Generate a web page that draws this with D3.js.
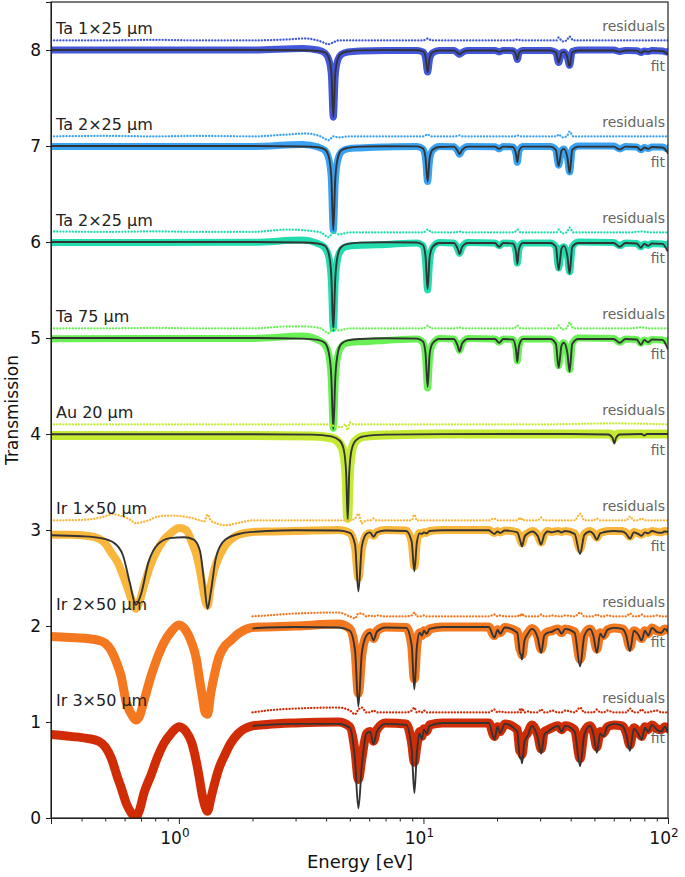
<!DOCTYPE html>
<html>
<head>
<meta charset="utf-8">
<script src="https://d3js.org/d3.v7.min.js"></script>
<style>
  body { margin: 0; background: #fff; }
  text { font-family: "DejaVu Sans", sans-serif; }
</style>
</head>
<body>
<script>
// ---- sample rows (top to bottom) ----
var labels = ['Ta 1×25 µm', 'Ta 2×25 µm', 'Ta 2×25 µm', 'Ta 75 µm', 'Au 20 µm', 'Ir 1×50 µm', 'Ir 2×50 µm', 'Ir 3×50 µm'];
var offsets = [7, 6, 5, 4, 3, 2, 1, 0];
var colors = ['#4257da', '#3aa2f2', '#22dcae', '#68f055', '#c4ea34', '#f8b73c', '#f47820', '#d02c06'];

// ---- Ta: energies [eV] of fit / data points ----
var taEnergy = [0.3, 2.0, 3.2, 3.7, 3.95, 4.1, 4.2, 4.28, 4.36, 4.47, 4.62, 4.9, 5.5, 7.0,
  9.4, 9.95, 10.2, 10.4, 10.6, 10.9, 11.6,
  13.3, 13.8, 14.05, 14.4, 15.2,
  19.6, 20.4, 21.2,
  23.2, 23.9, 24.2, 24.6, 25.5,
  33.0, 34.8, 35.7, 36.7, 37.5, 38.8, 39.6, 40.6, 43.0,
  60.0, 63.5, 67.0, 74.5, 77.5, 80.0, 83.0, 86.0, 95.0, 98.5, 100];

var ta1Fit = [1.0, 1.0, 0.997, 0.99, 0.975, 0.92, 0.78, 0.3, 0.76, 0.91, 0.965, 0.985, 0.996, 0.999,
  0.997, 0.985, 0.93, 0.77, 0.92, 0.975, 0.995,
  0.995, 0.97, 0.955, 0.975, 0.995,
  0.995, 0.98, 0.995,
  0.993, 0.95, 0.9, 0.97, 0.995,
  0.995, 0.975, 0.87, 0.97, 0.98, 0.92, 0.83, 0.975, 0.995,
  0.995, 0.98, 0.995, 0.993, 0.97, 0.99, 0.98, 0.993, 0.99, 0.965, 0.95];
var ta2aFit = [1.0, 1.0, 0.995, 0.987, 0.965, 0.89, 0.68, 0.12, 0.66, 0.88, 0.955, 0.98, 0.994, 0.998,
  0.996, 0.975, 0.88, 0.63, 0.87, 0.96, 0.99,
  0.993, 0.95, 0.915, 0.96, 0.993,
  0.993, 0.97, 0.993,
  0.99, 0.92, 0.83, 0.95, 0.993,
  0.993, 0.96, 0.79, 0.95, 0.97, 0.88, 0.72, 0.96, 0.993,
  0.993, 0.965, 0.993, 0.99, 0.955, 0.985, 0.97, 0.99, 0.985, 0.95, 0.92];
var ta2bFit = [1.0, 1.0, 0.995, 0.985, 0.96, 0.88, 0.65, 0.08, 0.62, 0.87, 0.95, 0.98, 0.993, 0.998,
  0.995, 0.97, 0.85, 0.51, 0.84, 0.95, 0.99,
  0.99, 0.93, 0.875, 0.95, 0.99,
  0.99, 0.95, 0.99,
  0.985, 0.9, 0.77, 0.93, 0.99,
  0.99, 0.95, 0.71, 0.93, 0.96, 0.85, 0.67, 0.95, 0.99,
  0.99, 0.95, 0.99, 0.985, 0.94, 0.98, 0.96, 0.985, 0.98, 0.93, 0.9];
var ta75Fit = [1.0, 1.0, 0.993, 0.98, 0.95, 0.85, 0.6, 0.05, 0.58, 0.85, 0.94, 0.975, 0.99, 0.997,
  0.993, 0.965, 0.84, 0.49, 0.83, 0.945, 0.99,
  0.99, 0.92, 0.86, 0.945, 0.99,
  0.99, 0.95, 0.99,
  0.985, 0.88, 0.75, 0.92, 0.99,
  0.99, 0.94, 0.69, 0.92, 0.95, 0.84, 0.65, 0.94, 0.99,
  0.99, 0.95, 0.99, 0.985, 0.93, 0.98, 0.955, 0.985, 0.98, 0.92, 0.88];

var ta1Data = [1.0, 1.0, 1.015, 1.0, 0.97, 0.9, 0.75, 0.3, 0.74, 0.9, 0.955, 0.98, 0.99, 0.995,
  0.995, 0.98, 0.92, 0.77, 0.91, 0.97, 0.995,
  0.995, 0.97, 0.955, 0.975, 0.995,
  0.995, 0.98, 0.995,
  0.993, 0.95, 0.9, 0.97, 0.995,
  0.995, 0.975, 0.87, 0.97, 0.98, 0.92, 0.84, 0.985, 1.0,
  1.0, 0.985, 0.995, 0.993, 0.975, 0.99, 0.985, 0.995, 0.99, 0.98, 0.985];
var ta2aData = [0.995, 0.995, 1.015, 0.99, 0.955, 0.87, 0.66, 0.12, 0.64, 0.86, 0.94, 0.97, 0.98, 0.99,
  0.995, 0.97, 0.87, 0.63, 0.86, 0.955, 0.995,
  0.993, 0.95, 0.915, 0.96, 0.995,
  0.993, 0.97, 0.995,
  0.99, 0.92, 0.83, 0.95, 0.995,
  0.995, 0.96, 0.8, 0.95, 0.97, 0.88, 0.73, 0.965, 1.0,
  1.0, 0.97, 0.995, 0.99, 0.96, 0.985, 0.975, 0.99, 0.99, 0.975, 0.98];
var ta2bData = [0.995, 0.998, 1.02, 0.985, 0.94, 0.85, 0.6, 0.1, 0.6, 0.84, 0.92, 0.955, 0.965, 0.975,
  0.99, 0.96, 0.8, 0.5, 0.8, 0.94, 0.995,
  0.99, 0.93, 0.88, 0.95, 0.995,
  0.99, 0.96, 0.99,
  0.985, 0.9, 0.78, 0.93, 0.99,
  0.99, 0.95, 0.73, 0.93, 0.95, 0.86, 0.69, 0.95, 1.0,
  0.995, 0.96, 0.99, 0.985, 0.95, 0.98, 0.965, 0.985, 0.98, 0.97, 0.98];
var ta75Data = [0.993, 0.995, 1.02, 0.98, 0.93, 0.83, 0.56, 0.06, 0.56, 0.82, 0.91, 0.95, 0.96, 0.975,
  0.99, 0.955, 0.8, 0.48, 0.8, 0.935, 0.995,
  0.99, 0.92, 0.87, 0.945, 0.995,
  0.99, 0.955, 0.99,
  0.985, 0.89, 0.76, 0.92, 0.99,
  0.99, 0.94, 0.71, 0.92, 0.95, 0.85, 0.67, 0.945, 1.0,
  0.995, 0.955, 0.99, 0.985, 0.945, 0.98, 0.96, 0.985, 0.98, 0.965, 0.975];

// Ta residuals (shifted +0.1 above each row)
var taResE = [0.3, 0.5, 0.8, 1.2, 2.0, 2.8, 3.3, 3.8, 4.1, 4.28, 4.5, 5.0, 6.5, 9.0, 10.0, 10.4, 10.8, 13.5, 14.0, 14.5,
  20, 23.5, 24.2, 25, 30, 35, 35.7, 37, 38.5, 39.6, 41, 50, 63.5, 70, 77.5, 85, 100];
var ta1Res = [0.0, 0.0, 0.005, 0.0, 0.0, 0.01, 0.02, -0.01, -0.04, -0.02, 0.0, 0.0, 0.0, 0.0, 0.0, 0.02, 0.0, 0.0, 0.0, 0.0,
  0.0, 0.0, 0.01, 0.0, 0.0, 0.0, 0.03, -0.01, 0.0, 0.04, 0.0, 0.0, 0.0, 0.0, 0.0, 0.0, 0.0];
var ta2aRes = [0.0, 0.005, 0.0, 0.005, 0.0, 0.02, 0.03, 0.0, -0.04, 0.0, -0.01, 0.0, 0.0, 0.0, 0.0, 0.02, 0.0, 0.0, 0.01, 0.0,
  0.0, 0.0, 0.01, 0.0, 0.0, 0.0, 0.02, -0.01, 0.0, 0.05, 0.0, 0.0, 0.0, 0.0, 0.0, 0.0, 0.0];
var ta2bRes = [0.01, 0.005, 0.01, 0.005, 0.005, 0.03, 0.02, 0.0, -0.05, 0.0, -0.02, 0.0, 0.0, 0.0, 0.0, 0.03, 0.0, 0.0, 0.01, 0.0,
  0.0, 0.0, 0.03, 0.0, 0.0, 0.0, 0.03, -0.01, 0.0, 0.05, 0.0, 0.0, 0.0, 0.0, 0.01, 0.0, 0.0];
var ta75Res = [0.0, 0.0, 0.005, 0.0, 0.0, 0.02, 0.02, 0.0, -0.05, 0.0, -0.02, 0.0, 0.0, 0.0, 0.0, 0.03, 0.0, 0.0, 0.01, 0.0,
  0.0, 0.0, 0.03, 0.0, 0.0, 0.0, 0.03, -0.01, 0.0, 0.06, 0.0, 0.0, 0.0, 0.0, 0.01, 0.0, 0.0];

// ---- Au ----
var auEnergy = [0.3, 2.0, 3.5, 4.2, 4.55, 4.72, 4.83, 4.9, 4.97, 5.08, 5.28, 5.7, 7.0, 12, 40, 57, 59.3, 60.3, 61.3, 63.5, 78, 80, 82, 100];
var auFit = [0.998, 0.998, 0.993, 0.975, 0.93, 0.84, 0.6, 0.1, 0.58, 0.83, 0.93, 0.975, 0.993, 0.999, 1.0, 0.995, 0.96, 0.9, 0.96, 0.995, 1.0, 0.985, 1.0, 1.0];
var auData = [0.985, 0.985, 0.98, 0.96, 0.9, 0.8, 0.55, 0.12, 0.55, 0.82, 0.93, 0.975, 0.99, 1.0, 1.0, 1.0, 0.99, 0.96, 0.99, 1.0, 1.0, 1.0, 1.0, 1.0];
var auResE = [0.3, 1.0, 2.0, 3.0, 4.0, 4.6, 4.8, 4.9, 5.0, 5.2, 6.0, 10, 30, 60, 100];
var auRes = [0.0, 0.0, 0.0, 0.0, 0.0, -0.03, 0.0, -0.06, 0.02, 0.0, 0.0, 0.0, 0.0, 0.01, 0.0];

// ---- Ir: fit grid (Ir 2x50 / 3x50 fits start at 2 eV) ----
var irEnergy = [0.3, 0.4, 0.48, 0.54, 0.59, 0.63, 0.667, 0.7, 0.75, 0.82, 0.92,
  1.05, 1.15, 1.22, 1.27, 1.31, 1.35, 1.42, 1.55, 1.8,
  2.0, 2.3, 3.0, 4.5, 5.0, 5.25, 5.42, 5.6, 5.85, 6.05, 6.25, 6.45, 7.0,
  8.5, 8.95, 9.18, 9.4, 9.65, 9.85, 10.05, 10.3, 10.6, 12,
  18.5, 19.5, 20.1, 20.6, 21.5, 24.2, 24.8, 25.05, 25.3, 25.9, 26.6, 27.8,
  29.3, 30.3, 31.2, 32.3, 33.5, 35.5, 36.7, 38, 41.5, 43.7, 45.5, 48,
  49.5, 51.2, 52.8, 54.4, 56.5, 60, 65, 67.5, 69.9, 72.5, 75.5, 78, 80.5, 83, 86, 90, 94, 97, 100];

var ir1Fit = [0.945, 0.935, 0.915, 0.87, 0.74, 0.45, 0.22, 0.33, 0.66, 0.85, 0.915,
  0.925, 0.9, 0.78, 0.45, 0.18, 0.35, 0.72, 0.9, 0.965,
  0.98, 0.99, 0.997, 0.995, 0.97, 0.85, 0.36, 0.83, 0.96, 0.975, 0.93, 0.975, 0.995,
  0.99, 0.88, 0.57, 0.87, 0.965, 0.96, 0.975, 0.965, 0.99, 0.998,
  0.997, 0.96, 0.985, 0.97, 0.995, 0.975, 0.9, 0.86, 0.83, 0.93, 0.96, 0.985,
  0.94, 0.85, 0.95, 0.985, 0.975, 0.99, 0.975, 0.99, 0.96, 0.75, 0.95, 0.985,
  0.96, 0.9, 0.965, 0.975, 0.985, 0.99, 0.985, 0.96, 0.91, 0.975, 0.96, 0.94, 0.975, 0.965, 0.99, 0.975, 0.97, 0.985, 0.98];
var ir2Fit = [null, null, null, null, null, null, null, null, null, null, null,
  null, null, null, null, null, null, null, null, null,
  0.975, 0.985, 0.99, 0.985, 0.95, 0.75, 0.16, 0.72, 0.9, 0.93, 0.85, 0.94, 0.985,
  0.98, 0.8, 0.34, 0.78, 0.93, 0.9, 0.95, 0.92, 0.97, 0.99,
  0.99, 0.88, 0.96, 0.92, 0.985, 0.93, 0.72, 0.7, 0.65, 0.85, 0.91, 0.97,
  0.88, 0.72, 0.9, 0.93, 0.94, 0.97, 0.92, 0.97, 0.93, 0.58, 0.9, 0.97,
  0.9, 0.72, 0.92, 0.88, 0.96, 0.98, 0.97, 0.9, 0.74, 0.95, 0.91, 0.85, 0.95, 0.9, 0.98, 0.94, 0.93, 0.97, 0.94];
var ir3Fit = [null, null, null, null, null, null, null, null, null, null, null,
  null, null, null, null, null, null, null, null, null,
  0.96, 0.97, 0.98, 0.98, 0.94, 0.6, 0.1, 0.55, 0.88, 0.9, 0.77, 0.9, 0.98,
  0.97, 0.72, 0.26, 0.68, 0.88, 0.82, 0.92, 0.88, 0.96, 0.99,
  0.99, 0.82, 0.95, 0.885, 0.98, 0.9, 0.62, 0.63, 0.57, 0.8, 0.85, 0.96,
  0.84, 0.67, 0.87, 0.9, 0.93, 0.96, 0.9, 0.96, 0.9, 0.54, 0.87, 0.96,
  0.88, 0.68, 0.88, 0.85, 0.95, 0.98, 0.96, 0.87, 0.7, 0.93, 0.88, 0.82, 0.94, 0.9, 0.97, 0.92, 0.9, 0.95, 0.885];

// Ir measured points
var irDataE = [0.3, 0.36, 0.42, 0.47, 0.5, 0.53, 0.56, 0.58, 0.61, 0.64, 0.667, 0.69, 0.72, 0.77, 0.82, 0.87, 0.93,
  1.0, 1.07, 1.13, 1.18, 1.21, 1.25, 1.28, 1.31, 1.35, 1.4, 1.46, 1.53, 1.63, 1.75,
  2.0, 2.3, 3.0, 4.5, 5.0, 5.25, 5.42, 5.6, 5.85, 6.05, 6.25, 6.45, 7.0,
  8.5, 8.95, 9.18, 9.4, 9.65, 9.85, 10.05, 10.3, 10.6, 12,
  18.5, 19.5, 20.1, 20.6, 21.5, 24.2, 24.8, 25.05, 25.3, 25.9, 26.6, 27.8,
  29.3, 30.3, 31.2, 32.3, 33.5, 35.5, 36.7, 38, 41.5, 43.7, 45.5, 48,
  49.5, 51.2, 52.8, 54.4, 56.5, 60, 65, 67.5, 69.9, 72.5, 75.5, 78, 80.5, 83, 86, 90, 94, 97, 100];
var ir1Data = [0.95, 0.95, 0.94, 0.91, 0.86, 0.76, 0.67, 0.58, 0.43, 0.28, 0.18, 0.25, 0.42, 0.65, 0.8, 0.9, 0.97,
  1.02, 1.0, 0.87, 0.74, 0.62, 0.42, 0.27, 0.21, 0.42, 0.6, 0.72, 0.82, 0.9, 0.95,
  0.98, 0.985, 0.99, 1.0, 0.97, 0.82, 0.5, 0.8, 0.95, 0.97, 0.94, 0.98, 1.0,
  0.995, 0.88, 0.62, 0.88, 0.97, 0.96, 0.98, 0.97, 0.99, 1.0,
  1.0, 0.97, 0.99, 0.975, 0.995, 0.975, 0.91, 0.88, 0.86, 0.94, 0.965, 0.99,
  0.95, 0.87, 0.96, 0.99, 0.98, 0.99, 0.98, 0.99, 0.965, 0.8, 0.96, 0.99,
  0.97, 0.92, 0.97, 0.98, 0.99, 0.99, 0.99, 0.97, 0.93, 0.98, 0.965, 0.95, 0.98, 0.97, 0.99, 0.98, 0.975, 0.99, 0.985];
var ir2Data = [0.89, 0.88, 0.87, 0.85, 0.82, 0.74, 0.6, 0.48, 0.2, 0.08, 0.02, 0.06, 0.22, 0.48, 0.68, 0.83, 0.94,
  1.01, 0.95, 0.82, 0.65, 0.47, 0.25, 0.1, 0.08, 0.3, 0.5, 0.68, 0.78, 0.85, 0.92,
  0.985, 0.99, 1.0, 1.02, 0.97, 0.75, 0.3, 0.7, 0.9, 0.93, 0.87, 0.95, 0.99,
  0.985, 0.8, 0.45, 0.8, 0.93, 0.9, 0.95, 0.93, 0.97, 0.99,
  0.99, 0.9, 0.96, 0.93, 0.985, 0.94, 0.76, 0.74, 0.7, 0.87, 0.92, 0.975,
  0.9, 0.76, 0.91, 0.94, 0.95, 0.97, 0.93, 0.97, 0.94, 0.65, 0.91, 0.97,
  0.91, 0.76, 0.93, 0.9, 0.96, 0.98, 0.97, 0.91, 0.78, 0.95, 0.92, 0.87, 0.95, 0.92, 0.98, 0.95, 0.94, 0.97, 0.96];
var ir3Data = [0.87, 0.85, 0.83, 0.8, 0.74, 0.62, 0.43, 0.32, 0.15, 0.05, 0.01, 0.08, 0.26, 0.45, 0.64, 0.78, 0.88,
  0.95, 0.9, 0.78, 0.58, 0.43, 0.22, 0.12, 0.07, 0.2, 0.36, 0.52, 0.64, 0.78, 0.88,
  0.96, 0.975, 0.99, 1.0, 0.95, 0.7, 0.4, 0.62, 0.88, 0.9, 0.8, 0.92, 0.99,
  0.98, 0.78, 0.58, 0.75, 0.9, 0.85, 0.93, 0.9, 0.97, 0.99,
  0.99, 0.85, 0.95, 0.9, 0.98, 0.92, 0.7, 0.7, 0.66, 0.84, 0.88, 0.97,
  0.87, 0.72, 0.9, 0.92, 0.94, 0.96, 0.92, 0.96, 0.92, 0.62, 0.9, 0.96,
  0.9, 0.74, 0.9, 0.88, 0.95, 0.97, 0.96, 0.89, 0.76, 0.94, 0.9, 0.85, 0.95, 0.92, 0.97, 0.93, 0.92, 0.95, 0.93];

// Ir residuals on the fit grid
var ir1Res = [0.0, 0.005, 0.03, 0.065, 0.04, 0.01, -0.03, -0.02, 0.0, 0.04, 0.05,
  0.04, 0.02, 0.0, -0.01, 0.06, 0.0, -0.03, -0.05, -0.02,
  0.0, 0.0, 0.0, 0.0, 0.0, 0.02, 0.07, -0.03, 0.0, 0.0, 0.02, 0.0, 0.0,
  0.0, 0.0, 0.06, 0.0, 0.0, 0.0, 0.0, 0.0, 0.0, 0.0,
  0.0, 0.02, 0.0, 0.0, 0.0, 0.0, 0.03, 0.0, 0.02, 0.0, 0.0, 0.0,
  0.0, 0.03, 0.0, 0.0, 0.0, 0.0, 0.0, 0.0, 0.0, 0.07, 0.0, 0.0,
  0.0, 0.02, 0.0, 0.0, 0.0, 0.0, 0.0, 0.0, 0.04, 0.0, 0.0, 0.02, 0.0, 0.0, 0.0, 0.0, 0.0, 0.0, 0.0];
var ir2Res = [null, null, null, null, null, null, null, null, null, null, null,
  null, null, null, null, null, null, null, null, null,
  0.0, 0.01, 0.03, 0.04, 0.0, -0.02, 0.03, 0.03, 0.0, 0.01, 0.0, 0.01, 0.0,
  0.0, 0.01, 0.04, 0.0, 0.0, 0.0, 0.01, 0.0, 0.0, 0.0,
  0.0, 0.02, 0.0, 0.01, 0.0, 0.0, 0.02, 0.0, 0.03, 0.0, 0.0, 0.0,
  0.0, 0.02, 0.0, 0.0, 0.01, 0.0, 0.0, 0.01, 0.0, 0.04, 0.0, 0.0,
  0.0, 0.02, 0.0, 0.0, 0.01, 0.0, 0.0, 0.0, 0.03, 0.0, 0.0, 0.02, 0.0, 0.0, 0.0, 0.01, 0.0, 0.0, 0.0];
var ir3Res = [null, null, null, null, null, null, null, null, null, null, null,
  null, null, null, null, null, null, null, null, null,
  0.0, 0.02, 0.04, 0.05, 0.02, -0.02, 0.03, 0.05, 0.0, 0.0, 0.02, 0.0, 0.0,
  0.0, 0.02, 0.05, 0.0, 0.01, 0.0, 0.02, 0.0, 0.0, 0.0,
  0.0, 0.03, 0.0, 0.01, 0.0, 0.0, 0.03, 0.0, 0.04, 0.0, 0.01, 0.0,
  0.0, 0.03, 0.0, 0.0, 0.02, 0.0, 0.0, 0.02, 0.0, 0.05, 0.0, 0.0,
  0.0, 0.03, 0.0, 0.0, 0.02, 0.0, 0.0, 0.0, 0.04, 0.0, 0.0, 0.03, 0.0, 0.0, 0.01, 0.02, 0.0, 0.0, 0.0];

var majorTicks = [1, 10, 100];
var majorExp = ['0', '1', '2'];
var yTicks = [0, 1, 2, 3, 4, 5, 6, 7, 8];

// table used for drawing
var series = [
  {fitE: taEnergy, fit: ta1Fit, dataE: taEnergy, data: ta1Data, resE: taResE, res: ta1Res, band: 7},
  {fitE: taEnergy, fit: ta2aFit, dataE: taEnergy, data: ta2aData, resE: taResE, res: ta2aRes, band: 7},
  {fitE: taEnergy, fit: ta2bFit, dataE: taEnergy, data: ta2bData, resE: taResE, res: ta2bRes, band: 7},
  {fitE: taEnergy, fit: ta75Fit, dataE: taEnergy, data: ta75Data, resE: taResE, res: ta75Res, band: 7},
  {fitE: auEnergy, fit: auFit, dataE: auEnergy, data: auData, resE: auResE, res: auRes, band: 9},
  {fitE: irEnergy, fit: ir1Fit, dataE: irDataE, data: ir1Data, resE: irEnergy, res: ir1Res, band: 8},
  {fitE: irEnergy, fit: ir2Fit, dataE: irDataE, data: ir2Data, resE: irEnergy, res: ir2Res, band: 9},
  {fitE: irEnergy, fit: ir3Fit, dataE: irDataE, data: ir3Data, resE: irEnergy, res: ir3Res, band: 9}
];

var width = 685, height = 877;
var svg = d3.select('body').append('svg')
    .attr('width', width)
    .attr('height', height);

var x = d3.scaleLog().domain([0.3, 100]).range([51, 668]);
var y = d3.scaleLinear().domain([0, 8.5]).range([818, 2]);

svg.append('clipPath').attr('id', 'plot')
  .append('rect').attr('x', 51).attr('y', 2).attr('width', 617).attr('height', 816);

function zip(es, vs) {
  return es.map(function(e, i) { return {e: e, v: vs[i]}; });
}

var plot = svg.append('g').attr('clip-path', 'url(#plot)');

series.forEach(function(s, i) {
  var off = offsets[i];
  var g = plot.append('g');
  var line = d3.line()
      .defined(function(d) { return d.v != null; })
      .x(function(d) { return x(d.e); })
      .curve(d3.curveMonotoneX);

  var pts = zip(s.dataE, s.data);
  g.append('path').datum(pts)
    .attr('d', line.y(function(d) { return y(d.v + off); }))
    .attr('fill', 'none')
    .attr('stroke', colors[i])
    .attr('stroke-width', s.band)
    .attr('stroke-linejoin', 'round')
    .attr('stroke-linecap', 'round');
  g.selectAll('circle').data(pts).enter().append('circle')
    .attr('cx', function(d) { return x(d.e); })
    .attr('cy', function(d) { return y(d.v + off); })
    .attr('r', 3)
    .attr('fill', colors[i]);

  g.append('path').datum(zip(s.resE, s.res))
    .attr('d', line.y(function(d) { return y(d.v + off + 1.1); }))
    .attr('fill', 'none')
    .attr('stroke', colors[i])
    .attr('stroke-width', 2.3)
    .attr('stroke-linecap', 'round')
    .attr('stroke-dasharray', '0.1,3');

  g.append('path').datum(zip(s.fitE, s.fit))
    .attr('d', line.y(function(d) { return y(d.v + off); }))
    .attr('fill', 'none')
    .attr('stroke', '#333')
    .attr('stroke-width', 1.9);
});

// row texts
labels.forEach(function(t, i) {
  var base = y(offsets[i] + 1);
  svg.append('text').attr('x', 56).attr('y', base - 16)
    .attr('font-size', 16).attr('fill', '#222').text(t);
  svg.append('text').attr('x', 665).attr('y', base - 19)
    .attr('text-anchor', 'end').attr('font-size', 14).attr('fill', '#666').text('residuals');
  svg.append('text').attr('x', 665).attr('y', base + 21)
    .attr('text-anchor', 'end').attr('font-size', 14).attr('fill', '#666').text('fit');
});

// axes
var yAxis = svg.append('g').attr('transform', 'translate(51,0)')
  .call(d3.axisLeft(y).tickValues(yTicks).tickSize(5).tickPadding(5).tickFormat(d3.format('d')));
yAxis.selectAll('text').attr('font-size', 17).attr('fill', '#111').style('font-family', '"DejaVu Sans", sans-serif');

var minor = [];
[0.1, 1, 10].forEach(function(dec) {
  for (var k = 2; k <= 9; k++) {
    var v = dec * k;
    if (v >= 0.3 && v < 100) minor.push(v);
  }
});
svg.append('g').attr('transform', 'translate(0,818)')
  .call(d3.axisBottom(x).tickValues(majorTicks).tickSize(6).tickFormat(''));
svg.append('g').attr('transform', 'translate(0,818)')
  .call(d3.axisBottom(x).tickValues(minor).tickSize(3.5).tickFormat(''))
  .select('.domain').remove();

majorTicks.forEach(function(v, i) {
  var t = svg.append('text').attr('x', x(v) - 4).attr('y', 844)
    .attr('text-anchor', 'middle').attr('font-size', 17).attr('fill', '#111');
  t.append('tspan').text('10');
  t.append('tspan').attr('dy', -7).attr('font-size', 12).text(majorExp[i]);
});

svg.selectAll('.domain').attr('stroke', '#222');
svg.selectAll('.tick line').attr('stroke', '#222');

// frame (top/right spines)
svg.append('rect').attr('x', 51).attr('y', 2).attr('width', 617).attr('height', 816)
  .attr('fill', 'none').attr('stroke', '#222').attr('stroke-width', 1.2);

svg.append('text').attr('x', 360).attr('y', 868)
  .attr('text-anchor', 'middle').attr('font-size', 18).attr('fill', '#111').text('Energy [eV]');
svg.append('text').attr('transform', 'translate(18,410) rotate(-90)')
  .attr('text-anchor', 'middle').attr('font-size', 17).attr('fill', '#111').text('Transmission');
</script>
</body>
</html>
